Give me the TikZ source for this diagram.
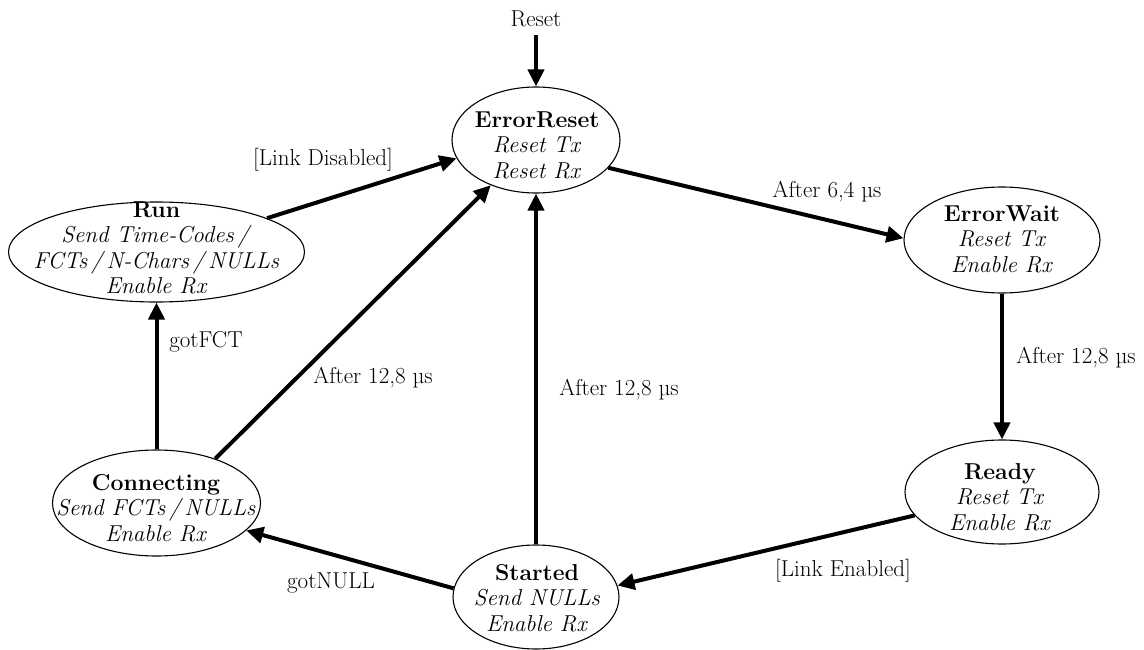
\documentclass[tikz,border=0pt]{standalone}
\usetikzlibrary{shapes.geometric,arrows.meta}
\begin{document}
\begin{tikzpicture}[x=1pt,y=-1pt,
  every node/.style={font=\fontsize{23}{25.5}\selectfont, inner sep=0pt},
  state/.style={draw, line width=1.1pt, ellipse},
  stext/.style={align=center},
  lbl/.style={},
  trans/.style={line width=4pt, -{Triangle[length=17pt,width=16pt]}, shorten >=0pt}
]
\useasboundingbox (0,0) rectangle (1144,650);

% states
\node[state, minimum width=168pt, minimum height=106pt] (er) at (536,140) {};
\node[stext] (ert) at (537,145) {\textbf{ErrorReset}\\\textit{Reset Tx}\\\textit{Reset Rx}};

\node[state, minimum width=296pt, minimum height=100pt] (run) at (156.5,252) {};
\node[stext] (runt) at (156.5,248) {\textbf{Run}\\\textit{Send Time-Codes\,/}\\\textit{FCTs\,/\,N-Chars\,/\,NULLs}\\\textit{Enable Rx}};

\node[state, minimum width=196pt, minimum height=106pt] (ew) at (1002,240) {};
\node[stext] (ewt) at (1002,239) {\textbf{ErrorWait}\\\textit{Reset Tx}\\\textit{Enable Rx}};

\node[state, minimum width=194pt, minimum height=104pt] (ready) at (1002,492) {};
\node[stext] (readyt) at (1000,497) {\textbf{Ready}\\\textit{Reset Tx}\\\textit{Enable Rx}};

\node[state, minimum width=166pt, minimum height=104pt] (started) at (536,597) {};
\node[stext] (startedt) at (537,598) {\textbf{Started}\\\textit{Send NULLs}\\\textit{Enable Rx}};

\node[state, minimum width=208pt, minimum height=106pt] (conn) at (156.5,503) {};
\node[stext] (connt) at (156,508) {\textbf{Connecting}\\\textit{Send FCTs\,/\,NULLs}\\\textit{Enable Rx}};

% reset
\node[lbl] (reset) at (536,19) {Reset};

% transitions
\draw[trans] ([yshift=-8pt]reset.south) -- (er.north);
\draw[trans] (run.17) -- (er.193);
\draw[trans] (conn.37) -- (er.225);
\draw[trans] (started) -- (er);
\draw[trans] (er.339) -- (ew.179);
\draw[trans] (ew) -- (ready);
\draw[trans] (ready.195) -- (started.8);
\draw[trans] (started.174) -- (conn.343);
\draw[trans] (conn) -- (run);

% labels
\node[lbl] (l1) at (323,160) {[Link Disabled]};
\node[lbl] (l2) at (373,378) {After 12,8 µs};
\node[lbl] (l3) at (206,342) {gotFCT};
\node[lbl] (l4) at (619,390) {After 12,8 µs};
\node[lbl] (l5) at (827,192) {After 6,4 µs};
\node[lbl] (l6) at (1076,358) {After 12,8 µs};
\node[lbl] (l7) at (843,571) {[Link Enabled]};
\node[lbl] (l8) at (331,583) {gotNULL};
\end{tikzpicture}
\end{document}
